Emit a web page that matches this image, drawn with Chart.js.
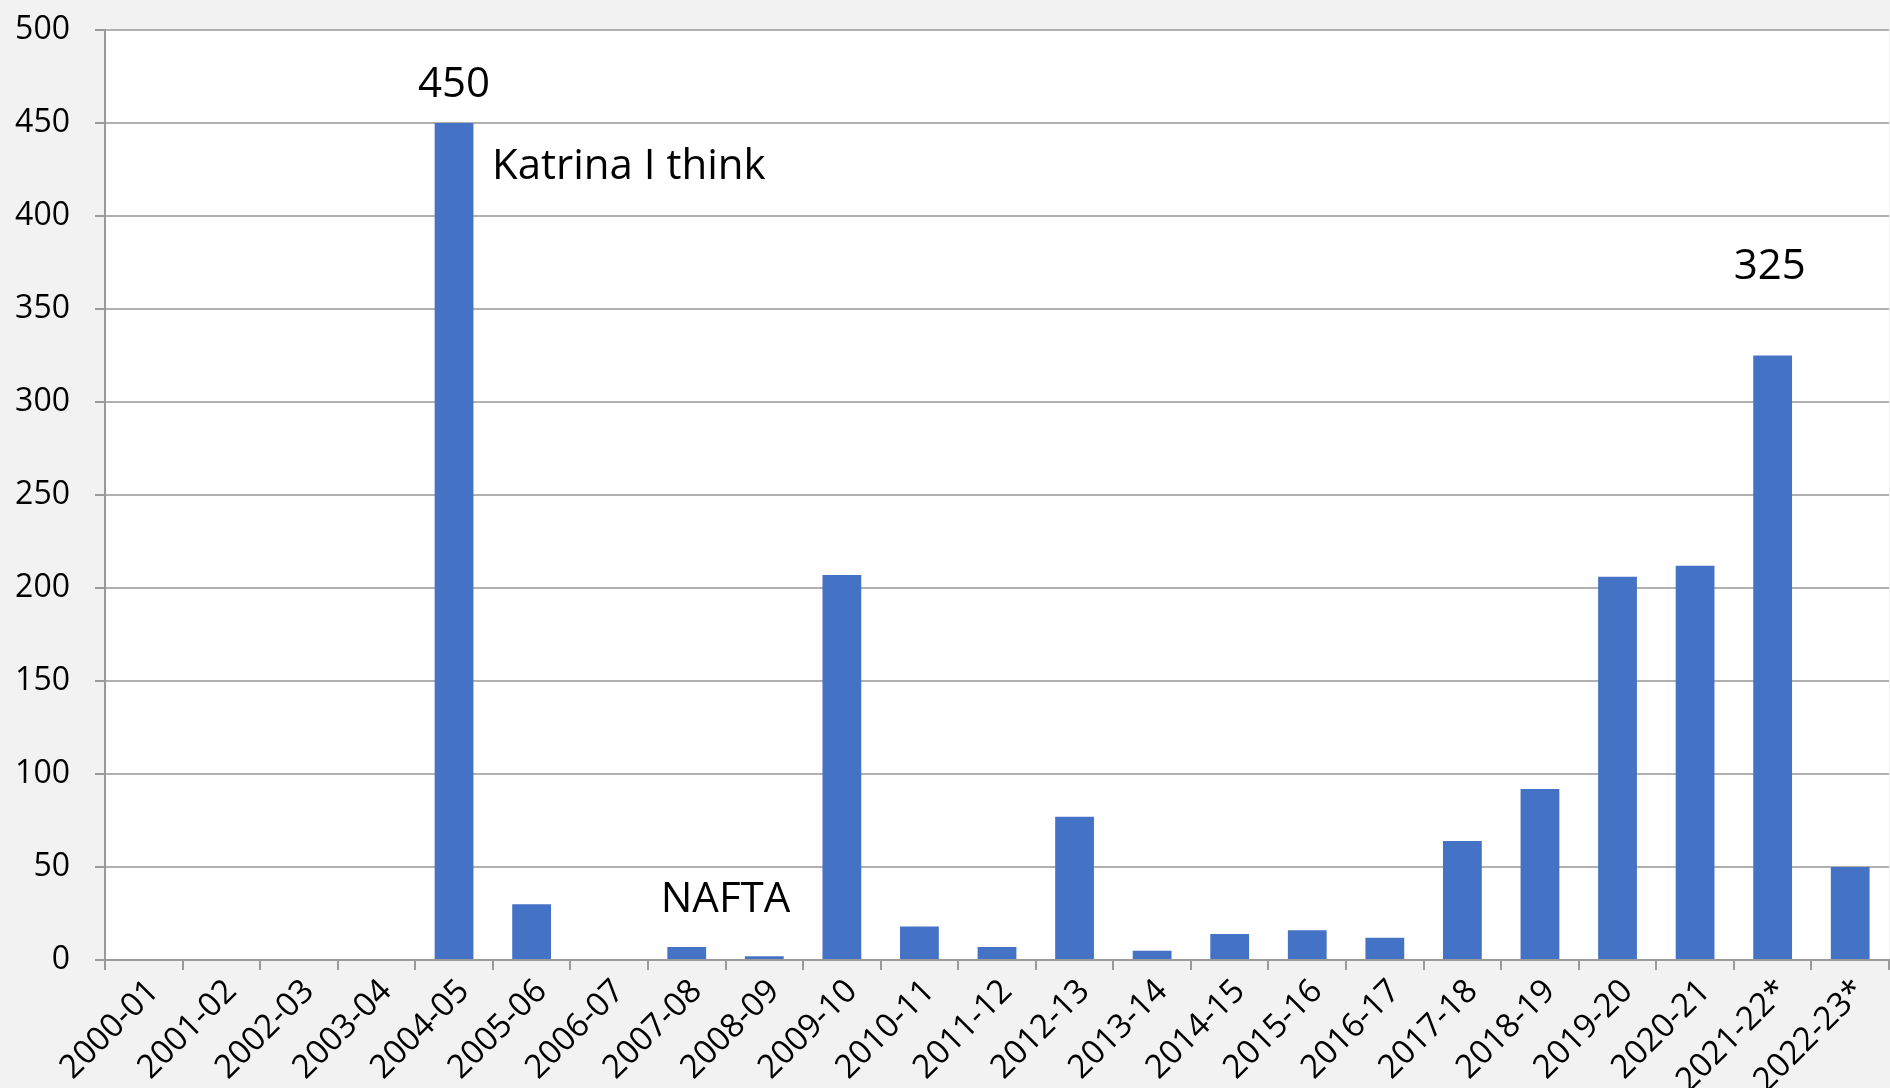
<!DOCTYPE html>
<html>
<head>
<meta charset="utf-8">
<script src="https://cdn.jsdelivr.net/npm/chart.js@4.4.1/dist/chart.umd.min.js"></script>
<style>
  html, body { margin: 0; padding: 0; background: #f2f2f2; }
  #wrap { width: 1890px; height: 1088px; }
  canvas { display: block; }
</style>
</head>
<body>
<div id="wrap"><canvas id="c" width="1890" height="1088"></canvas></div>
<script>
const categories = ["2000-01","2001-02","2002-03","2003-04","2004-05","2005-06","2006-07","2007-08","2008-09","2009-10","2010-11","2011-12","2012-13","2013-14","2014-15","2015-16","2016-17","2017-18","2018-19","2019-20","2020-21","2021-22*","2022-23*"];
const values = [0,0,0,0,450,30,0,7,2,207,18,7,77,5,14,16,12,64,92,206,212,325,50];
const yTicks = [0,50,100,150,200,250,300,350,400,450,500];
const annotationTexts = ["450","Katrina I think","325","NAFTA"];

const FONT = "'Open Sans', 'Noto Sans', 'Liberation Sans', sans-serif";

// annotation placement (category index, value anchor, alignment)
const annotationPlacement = [
  { idx: 4, val: 450, dy: -38, align: 'center', dx: 0 },
  { idx: 4, val: 426.5, dy: 0, align: 'left', dx: 38 },
  { idx: 21, val: 372.5, dy: 0, align: 'center', dx: -3 },
  { idx: 7.5, val: 32, dy: 0, align: 'center', dx: 0 }
];

const plotBg = {
  id: 'plotBg',
  beforeDraw(chart) {
    const { ctx, chartArea: a } = chart;
    ctx.save();
    ctx.fillStyle = '#f2f2f2';
    ctx.fillRect(0, 0, chart.width, chart.height);
    ctx.fillStyle = '#ffffff';
    ctx.fillRect(a.left, a.top, a.right - a.left, a.bottom - a.top);
    ctx.restore();
  }
};

const annotations = {
  id: 'annotations',
  afterDatasetsDraw(chart) {
    const { ctx } = chart;
    const xs = chart.scales.x, ys = chart.scales.y;
    const step = xs.getPixelForValue(1) - xs.getPixelForValue(0);
    ctx.save();
    ctx.fillStyle = '#000';
    ctx.font = "42px " + FONT;
    ctx.textBaseline = 'middle';
    annotationTexts.forEach((t, i) => {
      const p = annotationPlacement[i];
      const base = Math.floor(p.idx);
      const x = xs.getPixelForValue(base) + (p.idx - base) * step + p.dx;
      const y = ys.getPixelForValue(p.val) + p.dy;
      ctx.textAlign = p.align;
      ctx.fillText(t, x, y);
    });
    ctx.restore();
  }
};

new Chart(document.getElementById('c'), {
  type: 'bar',
  data: {
    labels: categories,
    datasets: [{
      data: values,
      backgroundColor: '#4472c4',
      borderWidth: 0,
      categoryPercentage: 1.0,
      barPercentage: 0.5
    }]
  },
  options: {
    responsive: false,
    animation: false,
    devicePixelRatio: 1,
    layout: { padding: { top: 30, right: 1, left: 0, bottom: 0 } },
    plugins: { legend: { display: false }, tooltip: { enabled: false } },
    scales: {
      x: {
        grid: { offset: true, drawOnChartArea: false, drawTicks: true, tickLength: 10, color: '#9a9a9a', lineWidth: 2 },
        border: { display: true, color: '#9a9a9a', width: 2 },
        ticks: {
          autoSkip: false, minRotation: 45, maxRotation: 45, padding: 2, labelOffset: 10,
          color: '#000', font: { family: FONT, size: 33 }
        },
        afterFit(s) { s.height = 128; s.paddingLeft = 0; s.paddingRight = 0; s.paddingTop = 0; s.paddingBottom = 0; }
      },
      y: {
        min: 0, max: 500,
        afterBuildTicks(s) { s.ticks = yTicks.map(v => ({ value: v })); },
        grid: { color: '#b0b0b0', lineWidth: 2, tickLength: 10, tickColor: '#9a9a9a' },
        border: { display: true, color: '#9a9a9a', width: 2 },
        ticks: { padding: 25, color: '#000', font: { family: FONT, size: 32 } },
        afterFit(s) { s.width = 105; s.paddingTop = 0; s.paddingBottom = 0; s.paddingLeft = 0; s.paddingRight = 0; }
      }
    }
  },
  plugins: [plotBg, annotations]
});
</script>
</body>
</html>
